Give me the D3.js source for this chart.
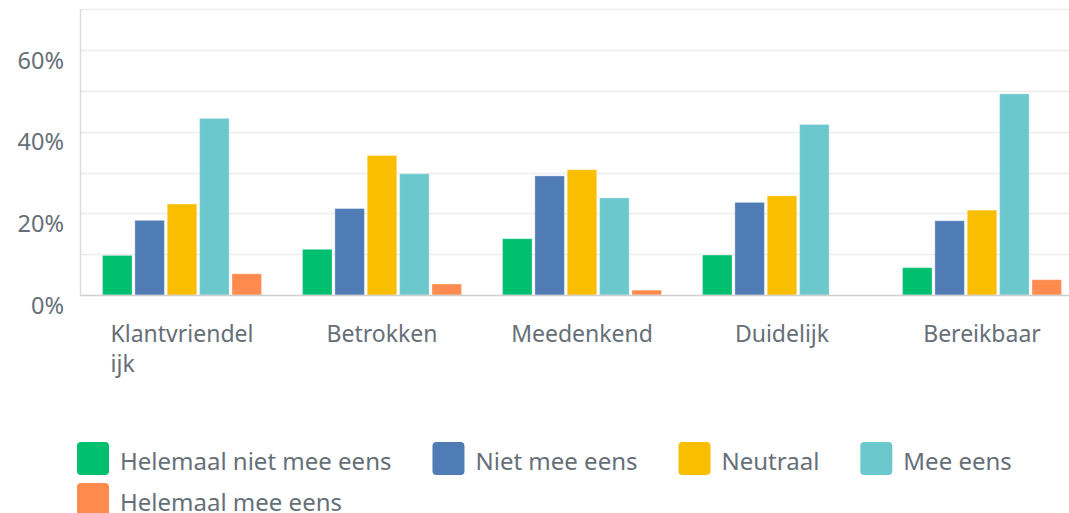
<!DOCTYPE html>
<html>
<head>
<meta charset="utf-8">
<script src="https://d3js.org/d3.v7.min.js"></script>
<style>
  body { margin: 0; background: #fff; font-family: "Noto Sans", sans-serif; }
  svg { display: block; }
</style>
</head>
<body>
<script>
// categories + series
var categories = ["Klantvriendelijk", "Betrokken", "Meedenkend", "Duidelijk", "Bereikbaar"]
var categoryLines = [["Klantvriendel", "ijk"], ["Betrokken"], ["Meedenkend"], ["Duidelijk"], ["Bereikbaar"]]
var seriesNames = ["Helemaal niet mee eens", "Niet mee eens", "Neutraal", "Mee eens", "Helemaal mee eens"]
var seriesColors = ["#00bf6f", "#507cb6", "#f9be00", "#6bc8cd", "#ff8b4f"]

var helemaalNiet = [9.7, 11.2, 13.8, 9.8, 6.7]
var nietMee = [18.3, 21.2, 29.2, 22.7, 18.2]
var neutraal = [22.3, 34.2, 30.7, 24.3, 20.8]
var meeEens = [43.3, 29.7, 23.8, 41.8, 49.3]
var helemaalMee = [5.2, 2.7, 1.2, 0, 3.75]
var seriesValues = [helemaalNiet, nietMee, neutraal, meeEens, helemaalMee]

var yTicks = [0, 20, 40, 60]
var gridTicks = [0, 10, 20, 30, 40, 50, 60, 70]

var width = 1069, height = 513
var textColor = "#666f78"

var svg = d3.select("body").append("svg")
    .attr("width", width)
    .attr("height", height)

var y = d3.scaleLinear().domain([0, 70]).range([295, 9.4])

var x0 = d3.scaleBand()
    .domain(categories)
    .range([82, 1082])
    .paddingInner(0.205)
    .paddingOuter(0.1025)

var x1 = d3.scaleBand()
    .domain(seriesNames)
    .range([0, x0.bandwidth()])
    .paddingInner(0.087)

var color = d3.scaleOrdinal().domain(seriesNames).range(seriesColors)

// gridlines
svg.append("g")
    .selectAll("line")
    .data(gridTicks.filter(function(d) { return d > 0 }))
    .enter().append("line")
    .attr("x1", 80).attr("x2", width)
    .attr("y1", function(d) { return Math.round(y(d)) + 0.5 })
    .attr("y2", function(d) { return Math.round(y(d)) + 0.5 })
    .style("stroke", "#ececec")
    .style("stroke-width", 1.5)

// y labels
svg.append("g")
    .selectAll("text")
    .data(yTicks)
    .enter().append("text")
    .attr("x", 64)
    .attr("y", function(d) { return y(d) + 18.5 })
    .attr("text-anchor", "end")
    .style("font-size", "23.5px")
    .style("fill", textColor)
    .text(function(d) { return d + "%" })

// bars
var rows = []
categories.forEach(function(c, i) {
  seriesNames.forEach(function(s, j) {
    rows.push({cat: c, series: s, value: seriesValues[j][i]})
  })
})

svg.append("g")
    .selectAll("rect")
    .data(rows.filter(function(d) { return d.value > 0 }))
    .enter().append("rect")
    .attr("x", function(d) { return x0(d.cat) + x1(d.series) })
    .attr("y", function(d) { return y(d.value) })
    .attr("width", x1.bandwidth())
    .attr("height", function(d) { return y(0) - y(d.value) })
    .style("fill", function(d) { return color(d.series) })
    .style("stroke", "#fff")
    .style("stroke-opacity", 0.35)
    .style("stroke-width", 1)

// axis lines
svg.append("line")
    .attr("x1", 80.5).attr("x2", 80.5).attr("y1", 9).attr("y2", 295)
    .style("stroke", "#dcdcdc").style("stroke-width", 1.5)
svg.append("line")
    .attr("x1", 80).attr("x2", width).attr("y1", 295.5).attr("y2", 295.5)
    .style("stroke", "#cfcfcf").style("stroke-width", 1.5)

// category labels (wrapped, left aligned block centred on group)
categories.forEach(function(c, i) {
  var t = svg.append("text")
      .style("font-size", "23px")
      .style("fill", textColor)
  categoryLines[i].forEach(function(line, k) {
    t.append("tspan").attr("y", 342 + k * 30).text(line)
  })
  var w = 0
  t.selectAll("tspan").each(function() { w = Math.max(w, this.getComputedTextLength()) })
  var cx = x0(c) + x0.bandwidth() / 2
  t.selectAll("tspan").attr("x", cx - w / 2)
})

// legend (flow layout)
var lx = 77, ly = 442
seriesNames.forEach(function(s, i) {
  var g = svg.append("g")
  var label = g.append("text")
      .attr("y", 28)
      .attr("x", 43)
      .style("font-size", "24px")
      .style("fill", textColor)
      .text(s)
  var itemW = 43 + label.node().getComputedTextLength()
  if (lx + itemW > width - 10) { lx = 77; ly += 41 }
  g.attr("transform", "translate(" + lx + "," + ly + ")")
  g.insert("rect", "text")
      .attr("width", 32).attr("height", 33)
      .attr("rx", 4)
      .style("fill", seriesColors[i])
  lx += itemW + 41
})
</script>
</body>
</html>
